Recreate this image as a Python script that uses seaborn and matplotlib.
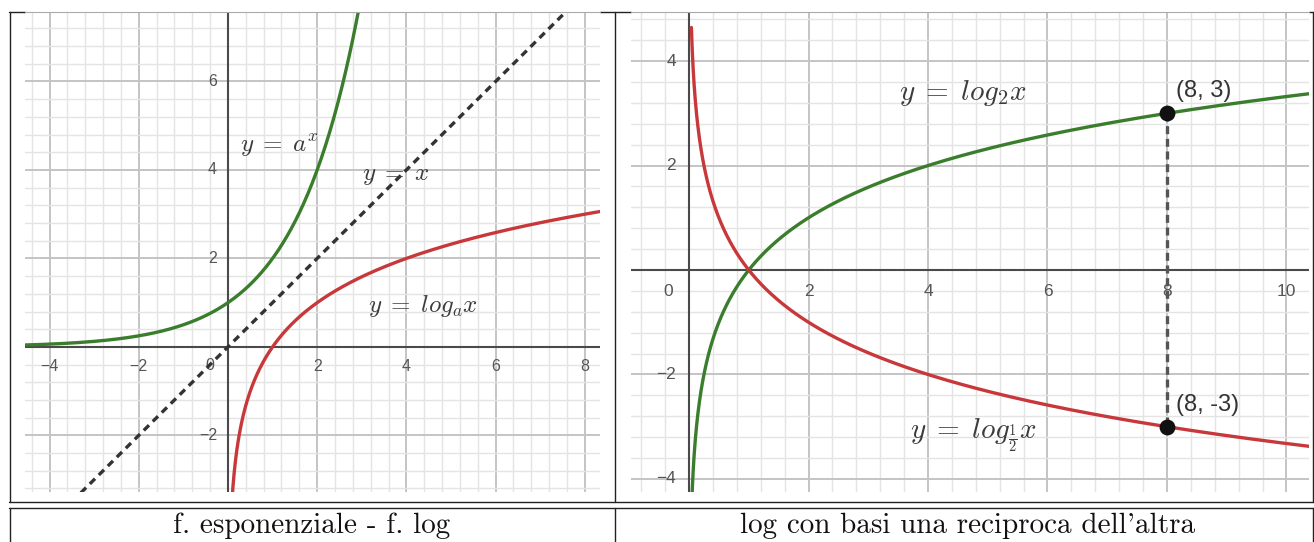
import numpy as np
import matplotlib
matplotlib.use("Agg")
import matplotlib.pyplot as plt
import seaborn as sns
from matplotlib.lines import Line2D

# ---------------- data ----------------
exp_base = 2.0            # y = a^x  (a = 2)
log_base_left = 2.0       # y = log_a x
log_base_pos = 2.0        # y = log_2 x
log_base_neg = 0.5        # y = log_1/2 x
points_x = [8, 8]
points_y = [3, -3]
point_labels = ["(8, 3)", "(8, -3)"]
left_xticks = [-4, -2, 2, 4, 6, 8]
left_yticks = [-2, 2, 4, 6]
right_xticks = [2, 4, 6, 8, 10]
right_yticks = [-4, -2, 2, 4]
captions = ["f. esponenziale - f. log", "log con basi una reciproca dell'altra"]

# ---------------- style ----------------
sns.set_style("white")
plt.rcParams["mathtext.fontset"] = "cm"
plt.rcParams["font.family"] = ["DejaVu Sans"]

GREEN = "#3a7d2c"
RED = "#c8383a"
LABEL = "#3c3c3c"
TICK = "#555555"
MAJOR = "#c4c4c4"
MINOR = "#e4e4e4"
AXIS = "#4a4a4a"
SANS = ["Liberation Sans", "DejaVu Sans"]

W, H = 1314, 542
fig = plt.figure(figsize=(W / 100, H / 100), dpi=100)
fig.patch.set_facecolor("white")


def px_box(x0, y0, x1, y1):
    return [x0 / W, 1 - y1 / H, (x1 - x0) / W, (y1 - y0) / H]


def setup_grid(ax, xlim, ylim):
    ax.set_xlim(*xlim)
    ax.set_ylim(*ylim)
    ax.set_xticks(np.arange(-10, 14, 2))
    ax.set_yticks(np.arange(-10, 14, 2))
    ax.set_xticks(np.arange(-10, 14, 0.4), minor=True)
    ax.set_yticks(np.arange(-10, 14, 0.4), minor=True)
    ax.grid(which="minor", color=MINOR, lw=1.0, zorder=0)
    ax.grid(which="major", color=MAJOR, lw=1.4, zorder=0)
    ax.tick_params(which="both", length=0, labelbottom=False, labelleft=False)
    ax.set_xlim(*xlim)
    ax.set_ylim(*ylim)
    for s in ax.spines.values():
        s.set_visible(False)
    ax.axhline(0, color=AXIS, lw=1.5, zorder=1)
    ax.axvline(0, color=AXIS, lw=1.5, zorder=1)
    ax.set_axisbelow(True)


def tick_labels(ax, xt, yt, fs, xoff, yoff, zero_off):
    for v in xt:
        ax.annotate(str(v).replace("-", "\u2212"), (v, 0), xytext=(0, xoff),
                    textcoords="offset pixels", ha="center", va="center",
                    fontsize=fs, color=TICK, family=SANS, zorder=2)
    for v in yt:
        ax.annotate(str(v).replace("-", "\u2212"), (0, v), xytext=(yoff, 0),
                    textcoords="offset pixels", ha="right", va="center",
                    fontsize=fs, color=TICK, family=SANS, zorder=2)
    ax.annotate("0", (0, 0), xytext=zero_off, textcoords="offset pixels",
                ha="center", va="center", fontsize=fs, color=TICK,
                family=SANS, zorder=2)


# ---------------- left panel ----------------
axL = fig.add_axes(px_box(25, 12, 600, 492))
xlimL, ylimL = (-4.55, 8.34), (-3.28, 7.57)
setup_grid(axL, xlimL, ylimL)
tick_labels(axL, left_xticks, left_yticks, 11.5, -20, -11, (-18, -19))

xe = np.linspace(-4.6, 3.0, 400)
sns.lineplot(x=xe, y=exp_base ** xe, ax=axL, color=GREEN, lw=2.4, zorder=3)
xl = np.geomspace(0.09, 8.4, 500)
sns.lineplot(x=xl, y=np.log(xl) / np.log(log_base_left), ax=axL, color=RED, lw=2.4, zorder=3)
xd = np.linspace(-3.5, 7.7, 50)
sns.lineplot(x=xd, y=xd, ax=axL, color="#333333", lw=2.4, zorder=3)
axL.lines[-1].set_dashes([2.2, 1.6])

axL.text(0.27, 4.56, r"$y\;=\;a^x$", fontsize=18, color=LABEL, va="center", ha="left", zorder=4)
axL.text(3.0, 3.89, r"$y\;=\;x$", fontsize=18, color=LABEL, va="center", ha="left", zorder=4)
axL.text(3.14, 0.92, r"$y\;=\;log_a x$", fontsize=18, color=LABEL, va="center", ha="left", zorder=4)

# ---------------- right panel ----------------
axR = fig.add_axes(px_box(631, 12, 1309, 492))
xlimR, ylimR = (-0.971, 10.377), (-4.25, 4.94)
setup_grid(axR, xlimR, ylimR)
tick_labels(axR, right_xticks, right_yticks, 12.5, -21, -13, (-21, -21))

xr = np.geomspace(0.04, 10.5, 600)
sns.lineplot(x=xr, y=np.log(xr) / np.log(log_base_pos), ax=axR, color=GREEN, lw=2.4, zorder=3)
sns.lineplot(x=xr, y=np.log(xr) / np.log(log_base_neg), ax=axR, color=RED, lw=2.4, zorder=3)
sns.lineplot(x=points_x, y=points_y, ax=axR, color="#555555", lw=2.4,
             estimator=None, sort=False, zorder=3)
axR.lines[-1].set_dashes([2.4, 1.4])
sns.scatterplot(x=points_x, y=points_y, ax=axR, color="#111111", s=130,
                edgecolor="#111111", linewidth=0, zorder=5)
for px_, py_, lab in zip(points_x, points_y, point_labels):
    axR.annotate(lab, (px_, py_), xytext=(9, 22),
                 textcoords="offset pixels", ha="left", va="center",
                 fontsize=17, color="#333333", family=SANS, zorder=4)

axR.text(3.51, 3.39, r"$y\;=\;log_2 x$", fontsize=21, color=LABEL, va="center", ha="left", zorder=4)
axR.text(3.7, -3.16, r"$y\;=\;log_{\frac{1}{2}} x$", fontsize=21, color=LABEL, va="center", ha="left", zorder=4)

# ---------------- table rules & captions ----------------
def hline(y, x0, x1):
    fig.add_artist(Line2D([x0 / W, x1 / W], [1 - y / H, 1 - y / H], color="#222222", lw=1.0))


def vline(x, y0, y1):
    fig.add_artist(Line2D([x / W, x / W], [1 - y0 / H, 1 - y1 / H], color="#222222", lw=1.0))


hline(11.5, 9, 25)
hline(11.5, 600, 631)
hline(11.5, 1309, 1314)
fig.add_artist(Line2D([25 / W, 600 / W], [1 - 11.5 / H] * 2, color="#aaaaaa", lw=0.8))
fig.add_artist(Line2D([631 / W, 1309 / W], [1 - 11.5 / H] * 2, color="#aaaaaa", lw=0.8))
hline(502, 9, 1314)
hline(508, 9, 1314)
vline(9.5, 11.5, 502)
vline(9.5, 508, 542)
vline(615, 11.5, 502)
vline(615, 508, 542)
vline(1313, 11.5, 502)
vline(1313, 508, 542)

fig.text(312 / W, 1 - 526 / H, captions[0], ha="center", va="center",
         fontsize=21, family=["cmr10", "DejaVu Serif"], color="#111111")
fig.text(968 / W, 1 - 526 / H, captions[1], ha="center", va="center",
         fontsize=21, family=["cmr10", "DejaVu Serif"], color="#111111")

fig.savefig("out.png", dpi=100, facecolor="white")
